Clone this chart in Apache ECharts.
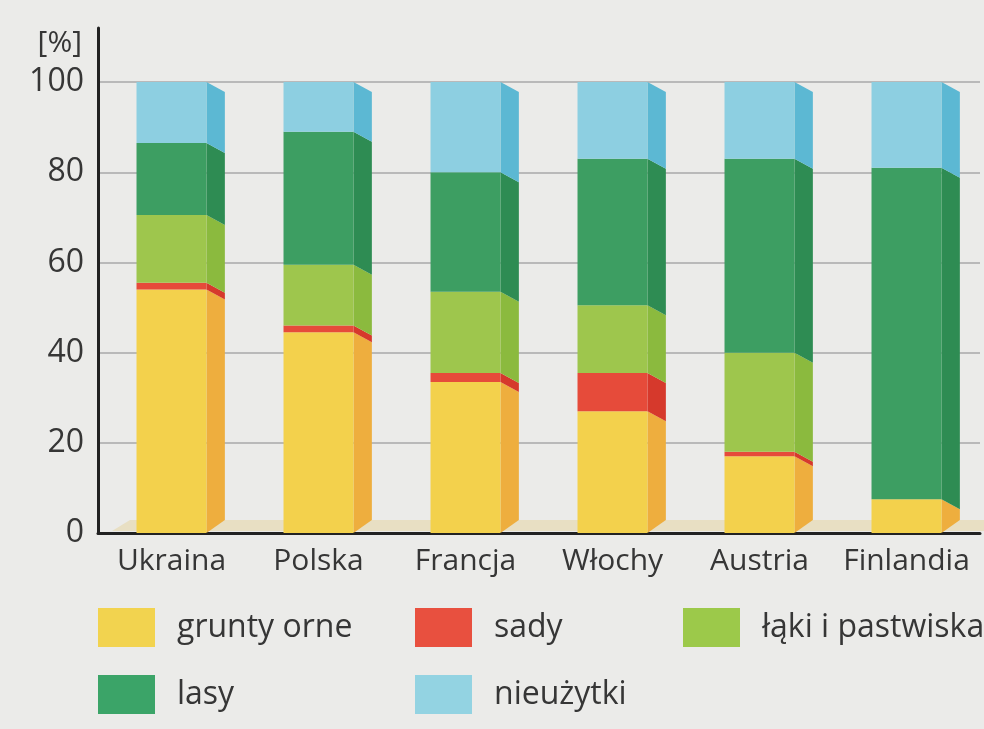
<!DOCTYPE html>
<html>
<head>
<meta charset="utf-8">
<script src="https://cdn.jsdelivr.net/npm/echarts@6/dist/echarts.min.js"></script>
<style>
  html, body { margin: 0; padding: 0; background: #ebebe9; }
  #chart { width: 984px; height: 729px; }
</style>
</head>
<body>
<div id="chart"></div>
<script>
const categories = ['Ukraina', 'Polska', 'Francja', 'Włochy', 'Austria', 'Finlandia'];
const gruntyOrne = [54, 44.5, 33.5, 27, 17, 7.5];
const sady = [1.5, 1.5, 2, 8.5, 1, 0];
const lakiPastwiska = [15, 13.5, 18, 15, 22, 0];
const lasy = [16, 29.5, 26.5, 32.5, 43, 73.5];
const nieuzytki = [13.5, 11, 20, 17, 17, 19];
const yTicks = [0, 20, 40, 60, 80, 100];

const layers = [
  { name: 'grunty orne', values: gruntyOrne, front: '#f3d14c', side: '#eeae3e', legend: '#f2d34f' },
  { name: 'sady', values: sady, front: '#e64b3a', side: '#d6392c', legend: '#e8503f' },
  { name: 'łąki i pastwiska', values: lakiPastwiska, front: '#9ec64d', side: '#8bba3e', legend: '#9cc94a' },
  { name: 'lasy', values: lasy, front: '#3d9e62', side: '#2e8c53', legend: '#3ba468' },
  { name: 'nieużytki', values: nieuzytki, front: '#8dcfe1', side: '#5cb8d3', legend: '#93d3e2' }
];

const chart = echarts.init(document.getElementById('chart'));

// running base of the stack
const base = categories.map(() => 0);
const series = layers.map((layer) => {
  const data = layer.values.map((v, i) => {
    const row = [i, base[i], v];
    base[i] += v;
    return row;
  });
  return {
    name: layer.name,
    type: 'custom',
    itemStyle: { color: layer.front },
    encode: { x: 0, y: [1, 2] },
    data: data,
    renderItem: (params, api) => {
      const ci = api.value(0);
      const b = api.value(1);
      const v = api.value(2);
      if (!v) return;
      const band = api.size([1, 0])[0];
      const w = band * 0.476;
      const depth = band * 0.125;
      const slant = 10;
      const pb = api.coord([ci, b]);
      const pt = api.coord([ci, b + v]);
      const x0 = pb[0] - w / 2;
      const xr = x0 + w;
      const bottomRight = b === 0 ? pb[1] - 13 : pb[1] + slant;
      return {
        type: 'group',
        children: [
          {
            type: 'polygon',
            shape: { points: [[xr, pt[1]], [xr + depth, pt[1] + slant], [xr + depth, bottomRight], [xr, pb[1]]] },
            style: { fill: layer.side }
          },
          {
            type: 'rect',
            shape: { x: x0, y: pt[1], width: w, height: pb[1] - pt[1] },
            style: { fill: layer.front }
          }
        ]
      };
    }
  };
});

// floor under the bars
series.unshift({
  type: 'custom',
  silent: true,
  z: 1,
  data: [[0]],
  renderItem: (params, api) => {
    const p = api.coord([0, 0]);
    const band = api.size([1, 0])[0];
    const x = p[0] - band / 2 + 14;
    const right = params.coordSys.x + params.coordSys.width + 10;
    return {
      type: 'polygon',
      shape: { points: [[x, p[1] - 2], [x + 18, p[1] - 13], [right, p[1] - 13], [right, p[1] - 2]] },
      style: { fill: '#e8dfc3' }
    };
  }
});

const legendPos = [
  { left: 98, top: 608 },
  { left: 415, top: 608 },
  { left: 683, top: 608 },
  { left: 98, top: 675 },
  { left: 415, top: 675 }
];

chart.setOption({
  backgroundColor: '#ebebe9',
  textStyle: { fontFamily: 'Open Sans' },
  grid: { left: 98, right: 4, top: 28, bottom: 196, containLabel: false },
  legend: layers.map((layer, i) => ({
    data: [{ name: layer.name, itemStyle: { color: layer.legend } }],
    left: legendPos[i].left,
    top: legendPos[i].top,
    padding: 0,
    icon: 'rect',
    itemWidth: 57,
    itemHeight: 39,
    selectedMode: false,
    textStyle: { fontSize: 32, color: '#363636', fontFamily: 'Open Sans', padding: [0, 0, 0, 17] }
  })),
  xAxis: {
    type: 'category',
    data: categories,
    axisLine: { lineStyle: { color: '#222', width: 3 } },
    axisTick: { show: false },
    axisLabel: { interval: 0, hideOverlap: false, fontSize: 30, color: '#363636', margin: 13, fontFamily: 'Open Sans' },
    splitLine: { show: false }
  },
  yAxis: {
    type: 'value',
    min: 0,
    max: 112,
    interval: 20,
    name: '[%]',
    nameLocation: 'end',
    nameGap: 0,
    nameTextStyle: { fontSize: 30, color: '#363636', align: 'right', verticalAlign: 'top', padding: [0, 16, 0, 0] },
    axisLine: { show: true, lineStyle: { color: '#222', width: 3 } },
    axisTick: { show: false },
    axisLabel: {
      fontSize: 32,
      color: '#363636',
      margin: 14,
      showMaxLabel: false,
      formatter: (v) => (yTicks.indexOf(v) >= 0 ? String(v) : '')
    },
    splitLine: { show: true, showMinLine: false, showMaxLine: false, lineStyle: { color: '#a8a8a8', width: 1.5 } }
  },
  series: series
});
</script>
</body>
</html>
